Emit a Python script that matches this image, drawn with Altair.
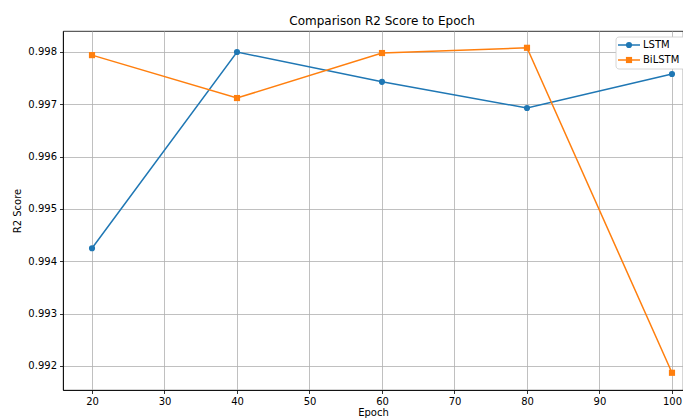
import altair as alt
import pandas as pd

epochs = [20, 40, 60, 80, 100]
lstm = [0.99425, 0.99800, 0.99743, 0.99693, 0.99758]
bilstm = [0.99794, 0.99712, 0.99798, 0.99808, 0.99187]
series = ["LSTM", "BiLSTM"]
colors = ["#1f77b4", "#ff7f0e"]
shapes = ["circle", "square"]
x_ticks = [20, 30, 40, 50, 60, 70, 80, 90, 100]
y_ticks = [0.992, 0.993, 0.994, 0.995, 0.996, 0.997, 0.998]

df = pd.DataFrame({
    "Epoch": epochs * 2,
    "R2": lstm + bilstm,
    "Model": [series[0]] * len(epochs) + [series[1]] * len(epochs),
})
legend_df = pd.DataFrame({"Model": series})

FONT = "DejaVu Sans"

xscale = alt.Scale(domain=[16, 101.52], nice=False, zero=False)
yscale = alt.Scale(domain=[0.991541, 0.998401], nice=False, zero=False)
cscale = alt.Scale(domain=series, range=colors)
sscale = alt.Scale(domain=series, range=shapes)

x = alt.X("Epoch:Q", scale=xscale, title="Epoch",
          axis=alt.Axis(values=x_ticks, format="d"))
y = alt.Y("R2:Q", scale=yscale, title="R2 Score",
          axis=alt.Axis(values=y_ticks, format=".3f"))
color = alt.Color("Model:N", scale=cscale, legend=None)
shape = alt.Shape("Model:N", scale=sscale, legend=None)

base = alt.Chart(df)

lines = base.mark_line(strokeWidth=1.5).encode(x=x, y=y, color=color)
points = base.mark_point(filled=True, size=38, opacity=1).encode(
    x=x, y=y, color=color, shape=shape
)
main = alt.layer(lines, points)

# legend (drawn as marks, positioned in pixels inside the plot area)
ly = alt.Y("Model:N", scale=alt.Scale(type="point", domain=series, range=[14, 29], padding=0),
           axis=None)
lbase = alt.Chart(legend_df)
leg_box = alt.Chart(legend_df.head(1)).mark_rect(
    fill="white", stroke="#cccccc", strokeWidth=0.8, cornerRadius=3
).encode(x=alt.value(553), x2=alt.value(640), y=alt.value(6), y2=alt.value(38))
leg_line = lbase.mark_rule(strokeWidth=1.5).encode(
    x=alt.value(555), x2=alt.value(577), y=ly, color=color
)
leg_pt = lbase.mark_point(filled=True, size=38, opacity=1).encode(
    x=alt.value(566), y=ly, color=color, shape=shape
)
leg_txt = lbase.mark_text(
    align="left", baseline="middle", font=FONT, fontSize=10, color="black"
).encode(x=alt.value(580), y=ly, text="Model:N")
legend = alt.layer(leg_box, leg_line, leg_pt, leg_txt)

chart = alt.layer(main, legend).resolve_scale(y="independent").properties(
    width=620,
    height=359,
    autosize=alt.AutoSizeParams(type="none"),
    padding={"left": 55, "top": 23, "right": 0, "bottom": 29},
    title=alt.TitleParams(
        "Comparison R2 Score to Epoch", font=FONT, fontSize=12,
        fontWeight="normal", color="black", anchor="middle", dx=9, offset=3,
    ),
).configure_view(
    stroke="black", strokeWidth=0.8
).configure_axis(
    labelFont=FONT, labelFontSize=10, labelColor="black",
    titleFont=FONT, titleFontSize=10, titleFontWeight="normal", titleColor="black",
    grid=True, gridColor="#b0b0b0", gridWidth=0.8,
    domainColor="black", domainWidth=0.8,
    tickColor="black", tickWidth=0.8, tickSize=3.5,
    labelPadding=3,
).configure_axisY(
    titlePadding=5,
).configure_axisX(
    titlePadding=1,
)

chart.save("out.html", embed_options={"renderer": "svg", "actions": False})
